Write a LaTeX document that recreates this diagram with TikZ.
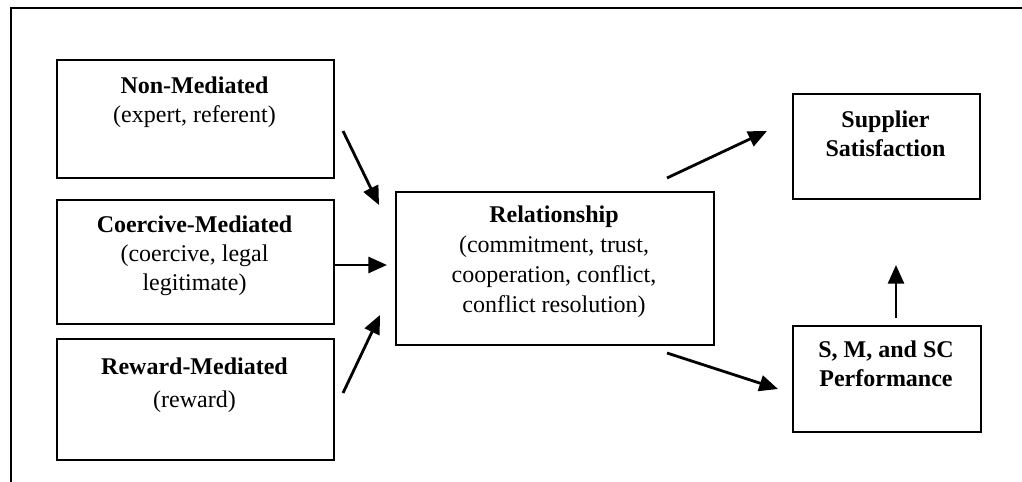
\documentclass[tikz,border=0pt]{standalone}
\usepackage{fontspec}
\setmainfont{Liberation Serif}
\usetikzlibrary{arrows.meta}
\begin{document}
\begin{tikzpicture}[x=0.75pt,y=-0.75pt,
  box/.style={draw,line width=1.7pt,rectangle,anchor=north west,inner sep=0pt},
  txt/.style={align=center,inner sep=0pt,anchor=base,font=\fontsize{18}{21.5}\selectfont},
  arr/.style={line width=2.1pt,-{Triangle[length=14pt,width=12pt]}},
  frame/.style={line width=1.7pt}]
\useasboundingbox (0,0) rectangle (1022,482);
% outer frame
\coordinate (fa) at (1022,8);
\coordinate (fb) at (11,8);
\coordinate (fc) at (11,482);
\draw[frame] (fa) -- (fb) -- (fc);
% boxes
\node[box,minimum width=277*0.75pt,minimum height=118*0.75pt] (nm) at (56,59) {};
\node[box,minimum width=277*0.75pt,minimum height=124*0.75pt] (cm) at (56,199) {};
\node[box,minimum width=277*0.75pt,minimum height=121*0.75pt] (rm) at (56,338) {};
\node[box,minimum width=318*0.75pt,minimum height=153*0.75pt] (rel) at (395,191) {};
\node[box,minimum width=187*0.75pt,minimum height=105*0.75pt] (sup) at (792,93) {};
\node[box,minimum width=188*0.75pt,minimum height=106*0.75pt] (perf) at (792,325) {};
% texts (anchor = baseline of last line)
\node[txt] (nmt) at (194.5,122) {\textbf{Non-Mediated}\\(expert, referent)};
\node[txt] (cmt) at (194.5,290) {\textbf{Coercive-Mediated}\\(coercive, legal\\legitimate)};
\node[txt] (rmt) at (194.5,407) {\textbf{Reward-Mediated}\\[3pt](reward)};
\node[txt,font=\fontsize{18}{22.3}\selectfont] (relt) at (554,312) {\textbf{Relationship}\\(commitment, trust,\\cooperation, conflict,\\conflict resolution)};
\node[txt] (supt) at (885.5,156) {\textbf{Supplier}\\\textbf{Satisfaction}};
\node[txt] (perft) at (886,386) {\textbf{S, M, and SC}\\\textbf{Performance}};
% arrow end points
\coordinate (a1s) at (343,131); \coordinate (a1e) at (379,205);
\coordinate (a2s) at (333,265); \coordinate (a2e) at (387,265);
\coordinate (a3s) at (343,393); \coordinate (a3e) at (380,315);
\coordinate (a4s) at (667,178); \coordinate (a4e) at (767,131);
\coordinate (a5s) at (667,353); \coordinate (a5e) at (778,389);
\coordinate (a6s) at (896,318); \coordinate (a6e) at (896,265);
\draw[arr] (a1s) -- (a1e);
\draw[arr] (a2s) -- (a2e);
\draw[arr] (a3s) -- (a3e);
\draw[arr] (a4s) -- (a4e);
\draw[arr] (a5s) -- (a5e);
\draw[arr] (a6s) -- (a6e);
\end{tikzpicture}
\end{document}
